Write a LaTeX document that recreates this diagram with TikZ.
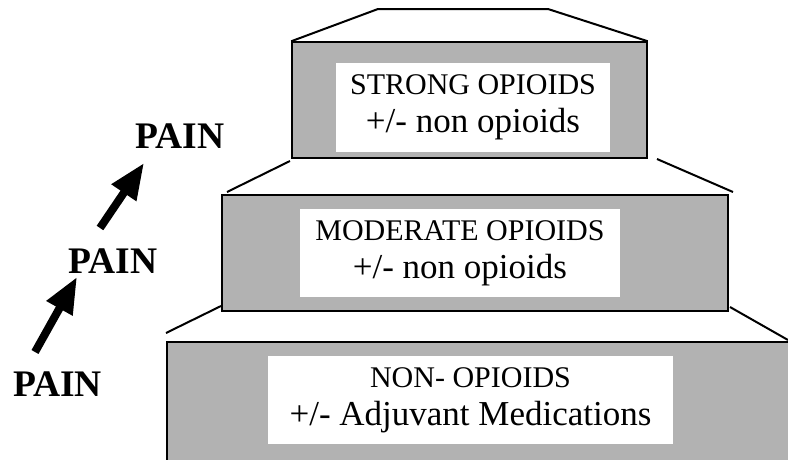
\documentclass[tikz,border=0pt]{standalone}
\usepackage{fontspec}
\setmainfont{Liberation Serif}
\usetikzlibrary{arrows.meta}

\newcommand{\bigline}{\fontsize{35}{40}\selectfont}

\begin{document}
\begin{tikzpicture}[
    x=1pt, y=-1pt,
    stepbox/.style={rectangle, draw, line width=1.5pt, fill=black!30},
    labelbox/.style={rectangle, fill=white, align=center, inner sep=0pt, font=\fontsize{30}{38}\selectfont},
    pain/.style={anchor=base west, inner sep=0pt, font=\fontsize{37.5}{40}\selectfont\bfseries},
    edge/.style={line width=2pt},
    painarrow/.style={line width=8pt, -{Triangle[length=36pt,width=28pt]}}
]
\clip (0,0) rectangle (788,459);

% Steps of the ladder, from top to bottom
\node [stepbox, minimum width=355pt, minimum height=116pt] (strong) at (469.5,100) {};
\node [stepbox, minimum width=506pt, minimum height=116pt] (moderate) at (475,253) {};
\node [stepbox, minimum width=628pt, minimum height=133pt] (nonop) at (481,408.5) {};

% White labels inside the steps
\node [labelbox, minimum width=274pt, minimum height=89pt] (strongtxt) at (473,107.5) {STRONG OPIOIDS\\{\bigline +/- non opioids}};
\node [labelbox, minimum width=320pt, minimum height=88pt] (moderatetxt) at (460,253) {MODERATE OPIOIDS\\{\bigline +/- non opioids}};
\node [labelbox, minimum width=405pt, minimum height=88pt] (nonoptxt) at (470.5,400) {NON- OPIOIDS\\{\bigline +/- Adjuvant Medications}};

% Roof and slanted edges between the steps
\coordinate (roofl) at (378,9);
\coordinate (roofr) at (548,9);
\draw [edge] (strong.north west) -- (roofl) -- (roofr) -- (strong.north east);
\draw [edge] (290,161) -- (227,192);
\draw [edge] (657,159) -- (733,192);
\draw [edge] (221,306) -- (166,333);
\draw [edge] (730,307) -- (788,340);

% Pain labels climbing up
\node [pain] (pain1) at (13,396) {PAIN};
\node [pain] (pain2) at (68,273) {PAIN};
\node [pain] (pain3) at (135,148) {PAIN};

% Arrows between them
\coordinate (tail1) at (35,352);
\coordinate (head1) at (77,277);
\coordinate (tail2) at (100,228);
\coordinate (head2) at (144,163);
\draw [painarrow] (tail1) -- (head1);
\draw [painarrow] (tail2) -- (head2);

\end{tikzpicture}
\end{document}
